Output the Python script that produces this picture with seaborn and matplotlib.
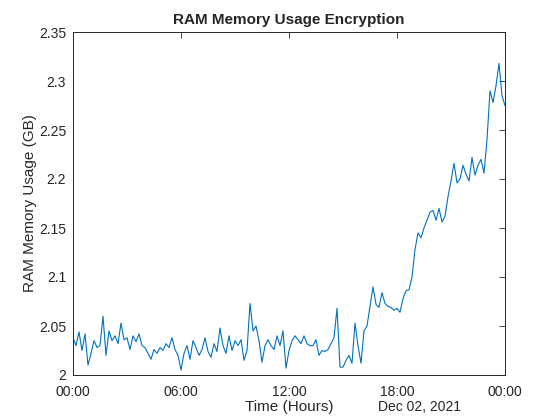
import pandas as pd
import seaborn as sns
import matplotlib.pyplot as plt
import matplotlib.dates as mdates

# RAM usage (GB), one value every 10 minutes
h00 = [2.038, 2.030, 2.044, 2.025, 2.042, 2.010]
h01 = [2.022, 2.035, 2.028, 2.030, 2.060, 2.020]
h02 = [2.045, 2.035, 2.040, 2.032, 2.053, 2.036]
h03 = [2.038, 2.026, 2.040, 2.034, 2.042, 2.030]
h04 = [2.028, 2.022, 2.016, 2.026, 2.022, 2.028]
h05 = [2.025, 2.032, 2.028, 2.038, 2.026, 2.020]
h06 = [2.005, 2.022, 2.030, 2.016, 2.035, 2.028]
h07 = [2.020, 2.026, 2.038, 2.024, 2.018, 2.032]
h08 = [2.024, 2.048, 2.030, 2.022, 2.040, 2.025]
h09 = [2.035, 2.030, 2.036, 2.015, 2.025, 2.073]
h10 = [2.045, 2.050, 2.035, 2.013, 2.030, 2.036]
h11 = [2.030, 2.026, 2.040, 2.030, 2.045, 2.007]
h12 = [2.025, 2.035, 2.040, 2.036, 2.032, 2.040]
h13 = [2.032, 2.030, 2.030, 2.036, 2.020, 2.025]
h14 = [2.024, 2.026, 2.032, 2.038, 2.068, 2.008]
h15 = [2.008, 2.015, 2.020, 2.012, 2.053, 2.030]
h16 = [2.012, 2.045, 2.050, 2.070, 2.090, 2.072]
h17 = [2.069, 2.084, 2.073, 2.070, 2.069, 2.066]
h18 = [2.068, 2.064, 2.078, 2.086, 2.087, 2.100]
h19 = [2.128, 2.145, 2.140, 2.150, 2.158, 2.166]
h20 = [2.168, 2.158, 2.170, 2.156, 2.162, 2.182]
h21 = [2.198, 2.216, 2.196, 2.200, 2.214, 2.205]
h22 = [2.198, 2.222, 2.204, 2.214, 2.220, 2.206]
h23 = [2.240, 2.290, 2.278, 2.295, 2.318, 2.285]
last = [2.275]

ram = (h00 + h01 + h02 + h03 + h04 + h05 + h06 + h07 + h08 + h09 + h10 + h11
       + h12 + h13 + h14 + h15 + h16 + h17 + h18 + h19 + h20 + h21 + h22 + h23 + last)
times = pd.date_range("2021-12-02 00:00", periods=len(ram), freq="10min")
df = pd.DataFrame({"Time": times, "RAM": ram})

y_ticks = [2.0, 2.05, 2.1, 2.15, 2.2, 2.25, 2.3, 2.35]
x_ticks = pd.date_range("2021-12-02 00:00", "2021-12-03 00:00", freq="6h")

sns.set_style("white")
plt.rcParams["font.family"] = ["Liberation Sans", "DejaVu Sans"]
grey = "#262626"

fig = plt.figure(figsize=(5.6, 4.2), dpi=100)
ax = fig.add_axes([73 / 560, 45 / 420, 432 / 560, 343 / 420])
sns.lineplot(data=df, x="Time", y="RAM", ax=ax, color="#0072BD", linewidth=0.8)

ax.set_xlim(x_ticks[0], x_ticks[-1])
ax.set_ylim(2.0, 2.35)
ax.set_xticks(x_ticks)
ax.xaxis.set_major_formatter(mdates.DateFormatter("%H:%M"))
ax.set_yticks(y_ticks)
ax.set_yticklabels([f"{v:g}" for v in y_ticks])
ax.tick_params(direction="in", length=4, width=0.6, top=True, right=True,
               labelsize=10, colors=grey)
ax.tick_params(axis="x", pad=7)
ax.tick_params(axis="y", pad=5)
for s in ax.spines.values():
    s.set_visible(True)
    s.set_color(grey)
    s.set_linewidth(0.7)

ax.set_title("RAM Memory Usage Encryption", fontsize=11, fontweight="bold", pad=6)
ax.set_xlabel("Time (Hours)", fontsize=11, color=grey, labelpad=1)
ax.set_ylabel("RAM Memory Usage (GB)", fontsize=11, color=grey, labelpad=1)
ax.text(0.898, -0.074, "Dec 02, 2021", transform=ax.transAxes, ha="right", va="top",
        fontsize=10, color=grey)

fig.savefig("out.png", dpi=100)
